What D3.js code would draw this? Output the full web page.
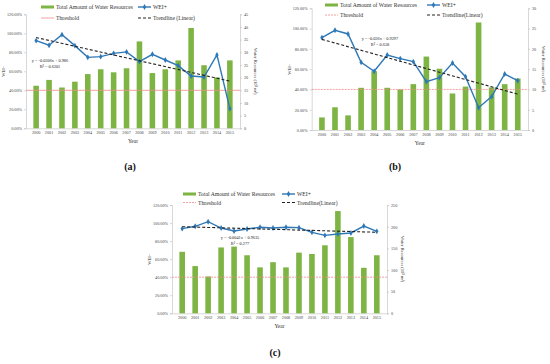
<!DOCTYPE html>
<html>
<head>
<meta charset="utf-8">
<script src="https://cdn.jsdelivr.net/npm/d3@7"></script>
<style>
  body { margin: 0; background: #fff; }
  svg { display: block; font-family: "Liberation Serif", "Times New Roman", serif; }
</style>
</head>
<body>
<svg id="chart" width="550" height="364"></svg>
<script>
// Data
const years = ["2000","2001","2002","2003","2004","2005","2006","2007","2008","2009","2010","2011","2012","2013","2014","2015"];

const waterA = [16.8, 19.1, 16.1, 18.4, 21.4, 23.3, 22.1, 23.7, 34.3, 21.8, 23.3, 26.8, 39.6, 24.9, 20.1, 26.8];
const weiA = [0.923, 0.874, 0.986, 0.870, 0.747, 0.754, 0.789, 0.804, 0.702, 0.779, 0.719, 0.660, 0.551, 0.540, 0.772, 0.207];

const waterB = [3.1, 5.6, 3.6, 10.4, 14.5, 10.4, 10.0, 11.3, 18.1, 15.1, 9.0, 10.7, 26.5, 10.5, 11.3, 12.7];
const weiB = [0.911, 0.983, 0.947, 0.667, 0.579, 0.740, 0.704, 0.674, 0.477, 0.516, 0.661, 0.526, 0.220, 0.329, 0.552, 0.487];

const waterC = [142, 109, 85, 152, 154, 134, 106, 118, 106, 140, 137, 157, 236, 176, 105, 134];
const weiC = [0.938, 0.964, 1.015, 0.945, 0.912, 0.934, 0.953, 0.945, 0.953, 0.949, 0.897, 0.864, 0.879, 0.890, 0.967, 0.908];

const leftTicks = [0, 0.2, 0.4, 0.6, 0.8, 1.0, 1.2];
const rightTicksA = [0, 5, 10, 15, 20, 25, 30, 35, 40, 45];
const rightTicksB = [0, 5, 10, 15, 20, 25, 30];
const rightTicksC = [0, 50, 100, 150, 200, 250];

const threshold = 0.4;

const green = "#7db443";
const blue = "#2e78b7";
const pink = "#f08a8a";

const svg = d3.select("#chart");

function drawPanel(p) {
	const g = svg.append("g");

	const x = d3.scaleBand().domain(years).range([p.left, p.right]).padding(0.57);
	const xc = d => x(d) + x.bandwidth() / 2;
	const yL = d3.scaleLinear().domain([0, 1.2]).range([p.bottom, p.top]);
	const yR = d3.scaleLinear().domain([0, d3.max(p.rightTicks)]).range([p.bottom, p.top]);

	// axes
	const axL = g.append("g")
		.attr("transform", `translate(${p.left},0)`)
		.call(d3.axisLeft(yL).tickValues(leftTicks).tickFormat(d => (d * 100).toFixed(2) + "%").tickSize(2).tickPadding(2));
	const axR = g.append("g")
		.attr("transform", `translate(${p.right},0)`)
		.call(d3.axisRight(yR).tickValues(p.rightTicks).tickSize(2).tickPadding(2));
	const axB = g.append("g")
		.attr("transform", `translate(0,${p.bottom})`)
		.call(d3.axisBottom(x).tickSize(0).tickPadding(3));

	[axL, axR, axB].forEach(a => {
		a.selectAll("path, line").attr("stroke", "#bdbdbd").attr("stroke-width", 0.6);
		a.selectAll("text").attr("font-size", 4.2).attr("fill", "#444").attr("font-family", "Liberation Serif");
	});

	// bars
	g.selectAll("rect.bar")
		.data(p.water)
		.join("rect")
		.attr("class", "bar")
		.attr("x", (d, i) => x(years[i]))
		.attr("width", x.bandwidth())
		.attr("y", d => yR(d))
		.attr("height", d => p.bottom - yR(d))
		.style("fill", green);

	// threshold
	g.append("line")
		.attr("x1", p.left).attr("x2", p.right)
		.attr("y1", yL(threshold)).attr("y2", yL(threshold))
		.attr("stroke", pink).attr("stroke-width", 0.8)
		.attr("stroke-dasharray", p.dashThreshold ? "2,1" : null);

	// WEI+ line
	const line = d3.line().x((d, i) => xc(years[i])).y(d => yL(d));
	g.append("path")
		.datum(p.wei)
		.attr("d", line)
		.attr("fill", "none")
		.attr("stroke", blue)
		.attr("stroke-width", 1.4);

	g.selectAll("path.mark")
		.data(p.wei)
		.join("path")
		.attr("class", "mark")
		.attr("d", d3.symbol(d3.symbolDiamond, 10))
		.attr("transform", (d, i) => `translate(${xc(years[i])},${yL(d)})`)
		.style("fill", blue);

	// trendline from the equation shown on the chart
	const ends = [1, years.length];
	g.append("line")
		.attr("x1", xc(years[0])).attr("x2", xc(years[years.length - 1]))
		.attr("y1", yL(p.slope * ends[0] + p.intercept))
		.attr("y2", yL(p.slope * ends[1] + p.intercept))
		.attr("stroke", "#222").attr("stroke-width", 1.1)
		.attr("stroke-dasharray", "3,2");

	// equation
	g.append("text")
		.attr("x", p.eqX).attr("y", p.eqY)
		.attr("text-anchor", "middle")
		.attr("font-size", 4.3).attr("fill", "#222")
		.text(p.eq);
	g.append("text")
		.attr("x", p.eqX).attr("y", p.eqY + 5.5)
		.attr("text-anchor", "middle")
		.attr("font-size", 4.3).attr("fill", "#222")
		.text(p.r2);

	// axis titles
	g.append("text")
		.attr("transform", `translate(${p.left - 21},${(p.top + p.bottom) / 2}) rotate(-90)`)
		.attr("text-anchor", "middle")
		.attr("font-size", 4.5).attr("fill", "#333")
		.text("WEI+");
	g.append("text")
		.attr("transform", `translate(${p.right + 14},${(p.top + p.bottom) / 2}) rotate(90)`)
		.attr("text-anchor", "middle")
		.attr("font-size", 4.5).attr("fill", "#333")
		.text("Water Resources (10⁸ m³)");
	g.append("text")
		.attr("x", (p.left + p.right) / 2).attr("y", p.bottom + 15)
		.attr("text-anchor", "middle")
		.attr("font-size", 5.5).attr("fill", "#333")
		.text("Year");

	// legend
	const lg = g.append("g");
	lg.append("rect").attr("x", p.lx1).attr("y", p.ly1 - 1.5).attr("width", 13).attr("height", 3).style("fill", green);
	lg.append("text").attr("x", p.lx1 + 15).attr("y", p.ly1 + 2).attr("font-size", 5.7).attr("fill", "#333").text("Total Amount of Water Resources");
	lg.append("line").attr("x1", p.lx2).attr("x2", p.lx2 + 13).attr("y1", p.ly1).attr("y2", p.ly1).attr("stroke", blue).attr("stroke-width", 1.4);
	lg.append("path").attr("d", d3.symbol(d3.symbolDiamond, 10)).attr("transform", `translate(${p.lx2 + 6.5},${p.ly1})`).style("fill", blue);
	lg.append("text").attr("x", p.lx2 + 15).attr("y", p.ly1 + 2).attr("font-size", 5.7).attr("fill", "#333").text("WEI+");
	lg.append("line").attr("x1", p.lx1).attr("x2", p.lx1 + 13).attr("y1", p.ly2).attr("y2", p.ly2).attr("stroke", pink).attr("stroke-width", 0.8)
		.attr("stroke-dasharray", p.dashThreshold ? "2,1" : null);
	lg.append("text").attr("x", p.lx1 + 15).attr("y", p.ly2 + 2).attr("font-size", 5.7).attr("fill", "#333").text("Threshold");
	lg.append("line").attr("x1", p.lx2).attr("x2", p.lx2 + 13).attr("y1", p.ly2).attr("y2", p.ly2).attr("stroke", "#222").attr("stroke-width", 1.1).attr("stroke-dasharray", "3,2");
	lg.append("text").attr("x", p.lx2 + 15).attr("y", p.ly2 + 2).attr("font-size", 5.7).attr("fill", "#333").text(p.trendLabel);

	// caption
	svg.append("text")
		.attr("x", p.capX).attr("y", p.capY)
		.attr("text-anchor", "middle")
		.attr("font-size", 10).attr("font-weight", "bold")
		.attr("font-family", "Liberation Serif")
		.attr("fill", "#111")
		.text(p.caption);
}

drawPanel({
	water: waterA, wei: weiA, rightTicks: rightTicksA,
	left: 26, right: 240, top: 14.3, bottom: 128.3,
	slope: -0.0306, intercept: 0.986,
	eq: "y = -0.0306x + 0.986", r2: "R² = 0.6301", eqX: 50, eqY: 62,
	lx1: 41, lx2: 138, ly1: 7, ly2: 18, trendLabel: "Trendline (Linear)",
	dashThreshold: false, caption: "(a)", capX: 130, capY: 169.5
});

drawPanel({
	water: waterB, wei: weiB, rightTicks: rightTicksB,
	left: 311.7, right: 528, top: 8.3, bottom: 130,
	slope: -0.036, intercept: 0.9297,
	eq: "y = -0.036x + 0.9297", r2: "R² = 0.658", eqX: 380, eqY: 40,
	lx1: 325, lx2: 427, ly1: 5, ly2: 15, trendLabel: "Trendline(Linear)",
	dashThreshold: true, caption: "(b)", capX: 395, capY: 169.5
});

drawPanel({
	water: waterC, wei: weiC, rightTicks: rightTicksC,
	left: 172, right: 387, top: 205, bottom: 313.3,
	slope: -0.0041, intercept: 0.9635,
	eq: "y = -0.0041x + 0.9635", r2: "R² = 0.277", eqX: 240, eqY: 239,
	lx1: 183, lx2: 282, ly1: 194, ly2: 202.5, trendLabel: "Trendline(Linear)",
	dashThreshold: true, caption: "(c)", capX: 275, capY: 356
});
</script>
</body>
</html>
